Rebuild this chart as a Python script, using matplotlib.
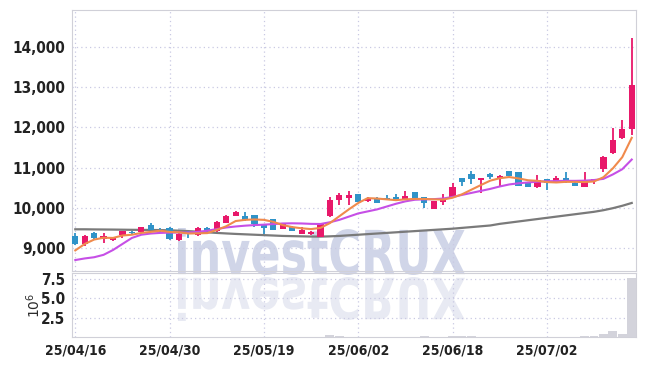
import matplotlib
matplotlib.use("Agg")
import matplotlib.pyplot as plt
from matplotlib.ticker import FuncFormatter, FixedLocator
from matplotlib.textpath import TextPath
from matplotlib.patches import PathPatch
from matplotlib.font_manager import FontProperties
from matplotlib.transforms import Affine2D

# daily candles, 25/04/16 .. 25/07/15
opens = [9306, 9092, 9366, 9232, 9192, 9331, 9390, 9406, 9572, 9450,
         9497, 9192, 9390, 9323, 9505, 9423, 9630, 9804, 9804, 9821,
         9590, 9722, 9473, 9530, 9348, 9341, 9281, 9796, 10194, 10250,
         10343, 10160, 10219, 10236, 10260, 10227, 10393, 10260, 9978, 10152,
         10276, 10733, 10841, 10692, 10841, 10750, 10916, 10883, 10609, 10526,
         10709, 10675, 10733, 10625, 10526, 10675, 10958, 11371, 11729, 11953]
highs = [9366, 9323, 9390, 9366, 9270, 9430, 9430, 9530, 9614, 9505,
         9520, 9415, 9420, 9510, 9520, 9670, 9810, 9930, 9903, 9830,
         9600, 9730, 9630, 9540, 9530, 9430, 9600, 10261, 10360, 10418,
         10350, 10276, 10270, 10318, 10343, 10418, 10400, 10270, 10170, 10343,
         10609, 10745, 10923, 10745, 10860, 10820, 10925, 10890, 10620, 10816,
         10720, 10790, 10883, 10640, 10898, 10720, 11280, 11978, 12184, 14216]
lows = [9070, 9057, 9216, 9117, 9170, 9249, 9360, 9400, 9440, 9410,
        9200, 9180, 9241, 9310, 9400, 9410, 9620, 9790, 9680, 9522,
        9341, 9440, 9460, 9420, 9340, 9330, 9270, 9760, 10070, 10070,
        10140, 10150, 10110, 10200, 10200, 10220, 10240, 9987, 9970, 10070,
        10260, 10542, 10592, 10377, 10720, 10526, 10780, 10530, 10515, 10480,
        10443, 10660, 10620, 10540, 10510, 10600, 10900, 11338, 11700, 11811]
closes = [9092, 9300, 9256, 9306, 9256, 9415, 9366, 9515, 9450, 9420,
          9216, 9341, 9340, 9490, 9423, 9655, 9796, 9903, 9697, 9590,
          9490, 9455, 9614, 9431, 9448, 9390, 9597, 10194, 10318, 10318,
          10152, 10219, 10127, 10210, 10210, 10293, 10252, 10127, 10160, 10210,
          10509, 10650, 10716, 10733, 10774, 10800, 10791, 10542, 10526, 10692,
          10625, 10733, 10634, 10550, 10650, 10709, 11256, 11687, 11953, 13055]
# volume, millions
volume = [0.02, 0.02, 0.02, 0.02, 0.02, 0.02, 0.02, 0.02, 0.02, 0.02,
          0.02, 0.02, 0.02, 0.02, 0.02, 0.02, 0.02, 0.02, 0.02, 0.02,
          0.02, 0.02, 0.02, 0.02, 0.02, 0.02, 0.02, 0.25, 0.12, 0.02,
          0.02, 0.02, 0.02, 0.02, 0.02, 0.02, 0.02, 0.1, 0.03, 0.03,
          0.08, 0.1, 0.1, 0.03, 0.03, 0.03, 0.03, 0.03, 0.03, 0.03,
          0.03, 0.03, 0.03, 0.03, 0.1, 0.1, 0.35, 0.8, 0.4, 7.6]
ma_short = [8940, 9100, 9210, 9255, 9250, 9310, 9330, 9375, 9400, 9430,
            9400, 9390, 9360, 9365, 9370, 9450, 9540, 9670, 9700, 9710,
            9700, 9650, 9570, 9520, 9490, 9470, 9500, 9620, 9790, 9960,
            10120, 10240, 10230, 10210, 10190, 10210, 10220, 10220, 10210, 10205,
            10250, 10335, 10450, 10565, 10675, 10735, 10765, 10730, 10685, 10670,
            10640, 10630, 10645, 10645, 10640, 10655, 10760, 10980, 11260, 11740]
ma_mid = [8700, 8740, 8770, 8830, 8950, 9100, 9250, 9330, 9360, 9375,
          9382, 9385, 9385, 9400, 9430, 9470, 9510, 9535, 9555, 9570,
          9580, 9595, 9610, 9614, 9610, 9600, 9597, 9640, 9700, 9780,
          9860, 9910, 9960, 10030, 10100, 10160, 10200, 10210, 10215, 10230,
          10270, 10320, 10370, 10420, 10470, 10530, 10580, 10610, 10630, 10650,
          10660, 10665, 10670, 10670, 10675, 10690, 10720, 10830, 10960, 11200]
ma_long = [9465, 9465, 9462, 9460, 9458, 9455, 9452, 9450, 9448, 9445,
           9440, 9430, 9420, 9405, 9390, 9375, 9362, 9350, 9340, 9330,
           9320, 9310, 9300, 9295, 9290, 9285, 9283, 9290, 9300, 9315,
           9330, 9345, 9360, 9375, 9390, 9405, 9420, 9435, 9450, 9465,
           9480, 9500, 9520, 9540, 9560, 9600, 9630, 9660, 9690, 9720,
           9750, 9780, 9810, 9840, 9870, 9900, 9940, 9990, 10050, 10120]
date_ticks = [0, 10, 20, 30, 40, 50]
date_labels = ["25/04/16", "25/04/30", "25/05/19", "25/06/02", "25/06/18", "25/07/02"]
price_ticks = [9000, 10000, 11000, 12000, 13000, 14000]
vol_ticks = [2.5, 5.0, 7.5]

UP = "#e8186a"
DOWN = "#2f93c8"
GRID = "#c9c9e3"
SPINE = "#d0d0d8"
TICKFONT = FontProperties(family="DejaVu Sans", stretch="condensed", weight="bold", size=11)
DATEFONT = FontProperties(family="DejaVu Sans", stretch="condensed", weight="bold", size=10)

fig = plt.figure(figsize=(6.45, 3.66), dpi=100)
ax = fig.add_axes([0.1116, 0.2596, 0.8744, 0.7131])
axv = fig.add_axes([0.1116, 0.0792, 0.8744, 0.1749], sharex=ax)
for a in (ax, axv):
    a.set_facecolor("none")
    for s in a.spines.values():
        s.set_color(SPINE)
    a.grid(True, linestyle=(0, (1, 2.5)), color=GRID, linewidth=0.9)
    a.set_axisbelow(True)
    a.tick_params(length=0, colors="#222222")

x = list(range(len(closes)))

# candles
for i in x:
    color = UP if closes[i] >= opens[i] else DOWN
    ax.vlines(i, lows[i], highs[i], color=color, linewidth=1.3, zorder=3)
    lo = min(opens[i], closes[i])
    h = max(abs(closes[i] - opens[i]), 20)
    ax.bar(i, h, bottom=lo, width=0.66, color=color, zorder=4)

ax.plot(x, ma_long, color="#7a7a7a", linewidth=1.6, zorder=2)
ax.plot(x, ma_mid, color="#c64fe6", linewidth=1.5, zorder=5)
ax.plot(x, ma_short, color="#f08a4c", linewidth=1.5, zorder=5)

ax.set_xlim(-0.35, 59.45)
ax.set_ylim(8428, 14920)
ax.yaxis.set_major_locator(FixedLocator(price_ticks))
ax.yaxis.set_major_formatter(FuncFormatter(lambda v, p: f"{int(v):,}"))
ax.xaxis.set_major_locator(FixedLocator(date_ticks))
ax.tick_params(axis="x", labelbottom=False)
ax.tick_params(axis="y", pad=5)
for lab in ax.get_yticklabels():
    lab.set_fontproperties(TICKFONT)

# volume
axv.bar(x, [v * 1e6 for v in volume], width=0.95, color="#d3d3db", zorder=3)
axv.set_ylim(0, 8.3e6)
axv.yaxis.set_major_locator(FixedLocator([v * 1e6 for v in vol_ticks]))
axv.yaxis.set_major_formatter(FuncFormatter(lambda v, p: f"{v / 1e6:.1f}"))
axv.set_xticks(date_ticks)
axv.set_xticklabels(date_labels)
axv.tick_params(axis="x", pad=5)
axv.tick_params(axis="y", pad=5)
for lab in axv.get_yticklabels():
    lab.set_fontproperties(TICKFONT)
for lab in axv.get_xticklabels():
    lab.set_fontproperties(DATEFONT)
axv.set_ylabel("$10^6$", fontsize=10, color="#2b2b2b")
axv.yaxis.set_label_coords(-0.052, 0.5)


# watermark with reflection, placed in pixel coordinates
def watermark(x0, x1, ytop, ybot, flip, color):
    tp = TextPath((0, 0), "investCRUX", size=50,
                  prop=FontProperties(family="DejaVu Sans", weight="bold"))
    ext = tp.get_extents()
    sx = (x1 - x0) / ext.width / 100
    sy = (ybot - ytop) / ext.height / 100
    tr = Affine2D().translate(-ext.x0, -ext.y0).scale(sx, sy)
    if flip:
        tr = tr.scale(1, -1).translate(x0 / 100, (366 - ytop) / 100)
    else:
        tr = tr.translate(x0 / 100, (366 - ybot) / 100)
    patch = PathPatch(tr.transform_path(tp), facecolor=color, edgecolor="none",
                      transform=fig.dpi_scale_trans, zorder=-1)
    fig.add_artist(patch)


watermark(178, 465, 228, 275, False, "#d0d5e8")
watermark(178, 465, 277, 321, True, "#e8eaf3")

fig.savefig("out.png", dpi=100)
